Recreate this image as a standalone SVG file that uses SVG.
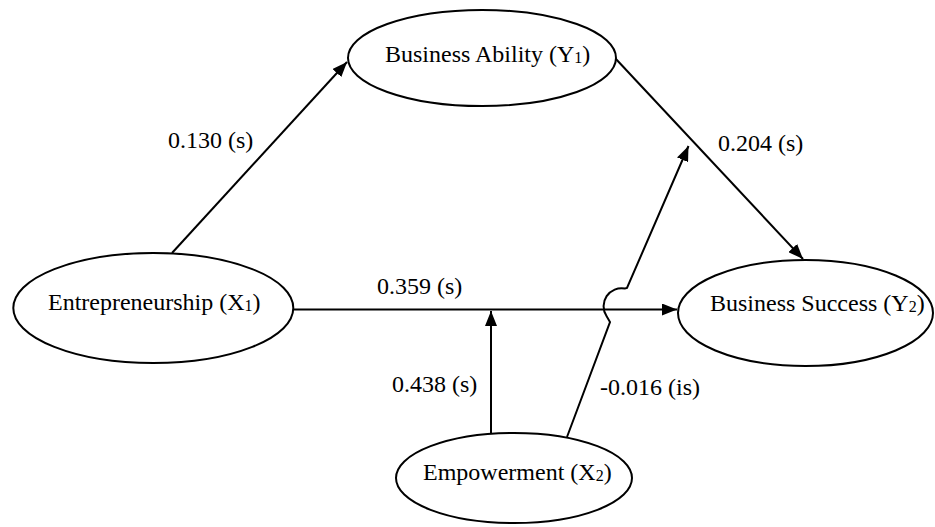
<svg xmlns="http://www.w3.org/2000/svg" width="935" height="527" viewBox="0 0 935 527">
<style>
  .node { fill: #ffffff; stroke: #000000; stroke-width: 2; }
  .lbl { font-family: "Liberation Serif", "Times New Roman", serif; font-size: 24px; fill: #000000; }
  .sub { font-size: 16px; }
  .conn { fill: none; stroke: #000000; stroke-width: 2; }
</style>
<defs>
  <marker id="arr" markerUnits="userSpaceOnUse" markerWidth="16" markerHeight="12" refX="15" refY="6" orient="auto">
    <path d="M0,0 L15,6 L0,12 Z" fill="#000000"/>
  </marker>
</defs>
<rect width="935" height="527" fill="#ffffff"/>
<g id="connectors">
  <line class="conn" x1="172" y1="253" x2="347" y2="62" marker-end="url(#arr)"/>
  <line class="conn" x1="615" y1="58" x2="803" y2="259" marker-end="url(#arr)"/>
  <line class="conn" x1="293" y1="309.5" x2="677" y2="309.5" marker-end="url(#arr)"/>
  <line class="conn" x1="491" y1="434" x2="491" y2="311" marker-end="url(#arr)"/>
  <path class="conn" d="M567,437 L610,322 L606.5,316 A18,18 0 0 1 625,288.5 L627,288 L688.5,146" marker-end="url(#arr)"/>
</g>
<g id="edge-labels">
  <text class="lbl" x="168" y="148">0.130 (s)</text>
  <text class="lbl" x="718" y="151">0.204 (s)</text>
  <text class="lbl" x="377" y="294">0.359 (s)</text>
  <text class="lbl" x="392" y="392">0.438 (s)</text>
  <text class="lbl" x="600" y="395">-0.016 (is)</text>
</g>
<g id="business-ability">
  <ellipse class="node" cx="482" cy="58" rx="134" ry="48"/>
  <text class="lbl" x="385" y="62">Business Ability (Y<tspan class="sub" dy="1">1</tspan><tspan dy="-1">)</tspan></text>
</g>
<g id="entrepreneurship">
  <ellipse class="node" cx="153.3" cy="308" rx="140" ry="55"/>
  <text class="lbl" x="48" y="310">Entrepreneurship (X<tspan class="sub" dy="1">1</tspan><tspan dy="-1">)</tspan></text>
</g>
<g id="business-success">
  <ellipse class="node" cx="805.5" cy="313" rx="127.5" ry="53"/>
  <text class="lbl" x="710" y="311">Business Success (Y<tspan class="sub" dy="1">2</tspan><tspan dy="-1">)</tspan></text>
</g>
<g id="empowerment">
  <ellipse class="node" cx="514" cy="478" rx="118" ry="45"/>
  <text class="lbl" x="423" y="480">Empowerment (X<tspan class="sub" dy="1">2</tspan><tspan dy="-1">)</tspan></text>
</g>
</svg>
